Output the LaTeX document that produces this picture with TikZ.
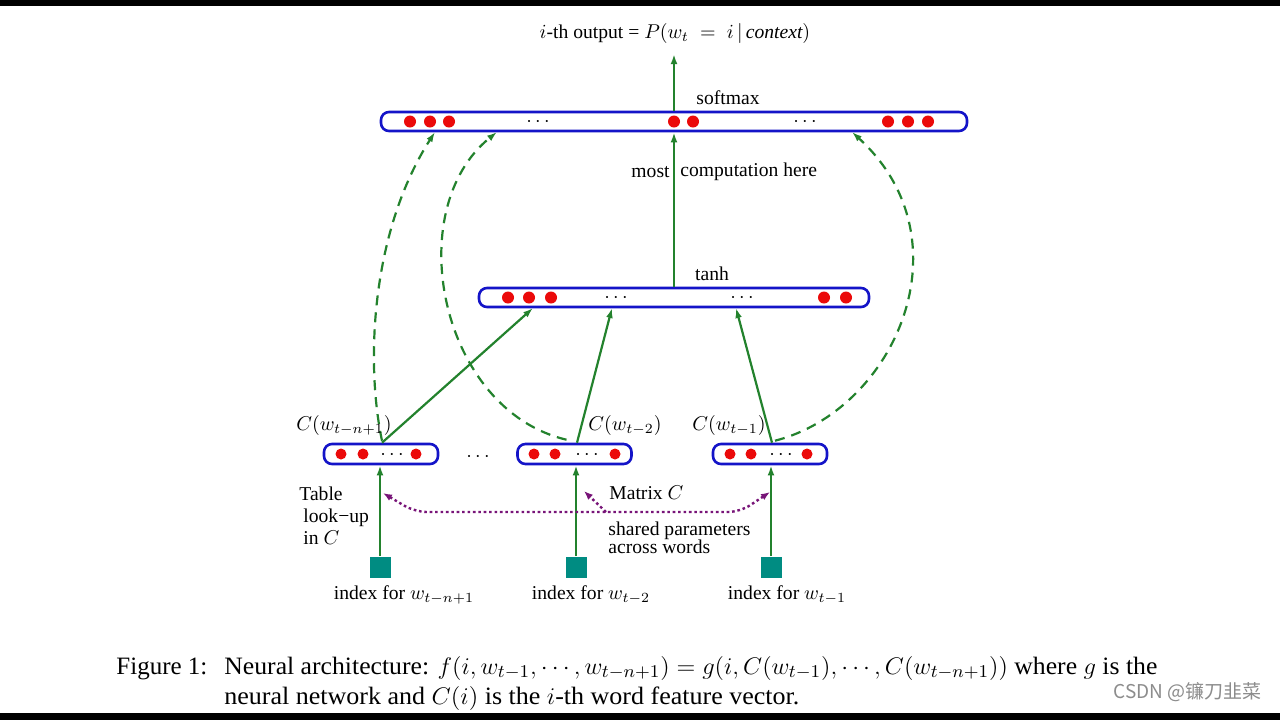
\documentclass[tikz,border=0pt]{standalone}
\usepackage{fontspec}
\setmainfont{Liberation Serif}
\newfontfamily\cjk{Noto Sans CJK SC}
\usetikzlibrary{arrows.meta,calc}
\definecolor{lgreen}{RGB}{35,130,45}
\definecolor{lblue}{RGB}{20,20,200}
\definecolor{lred}{RGB}{235,10,10}
\definecolor{lteal}{RGB}{0,140,130}
\definecolor{lpurple}{RGB}{120,20,120}
\tikzset{
  layer/.style={draw=lblue, line width=1.3pt, rounded corners=4pt, inner sep=0pt},
  bigdot/.style={circle, fill=lred, inner sep=0pt, minimum size=6pt},
  smalldot/.style={circle, fill=lred, inner sep=0pt, minimum size=5.5pt},
  sqbox/.style={fill=lteal, inner sep=0pt, minimum size=10.5pt},
  garrow/.style={draw=lgreen, line width=1.1pt, -{Latex[length=5pt,width=3.4pt]}},
  gdash/.style={garrow, dash pattern=on 5pt off 3.5pt},
  pline/.style={draw=lpurple, line width=1.2pt, dash pattern=on 1.3pt off 1.4pt, rounded corners=6pt},
  ptip/.style={-{Latex[length=4.5pt,width=3.5pt]}},
  txt/.style={inner sep=0pt, font=\fontsize{9.8}{11}\selectfont},
  ell/.style={inner sep=0pt, font=\fontsize{9.8}{11}\selectfont},
}
\begin{document}
\begin{tikzpicture}[x=0.5pt,y=-0.5pt]
\useasboundingbox (0,0) rectangle (1280,720);
\fill[white] (0,0) rectangle (1280,720);
\fill[black] (0,0) rectangle (1280,6);
\fill[black] (0,713) rectangle (1280,720);

% layers
\node[layer, minimum width=293pt, minimum height=9.5pt] (soft) at (674,121.5) {};
\node[layer, minimum width=195pt, minimum height=9.5pt] (tanh) at (674,297.5) {};
\node[layer, minimum width=57pt, minimum height=10pt] (e1) at (381,454) {};
\node[layer, minimum width=57pt, minimum height=10pt] (e2) at (574.5,454) {};
\node[layer, minimum width=57pt, minimum height=10pt] (e3) at (770,454) {};

% dots
\foreach \x [count=\i] in {410,430,449,674,693,888,908,928}
  \node[bigdot] (sd\i) at (\x,121.5) {};
\foreach \x [count=\i] in {508,529,551,824,846}
  \node[bigdot] (td\i) at (\x,297.5) {};
\foreach \x [count=\i] in {341,363,416}
  \node[smalldot] (ad\i) at (\x,454) {};
\foreach \x [count=\i] in {534,555,615}
  \node[smalldot] (bd\i) at (\x,454) {};
\foreach \x [count=\i] in {730,751,807}
  \node[smalldot] (cd\i) at (\x,454) {};
\node[ell] (se1) at (538,122) {$\cdots$};
\node[ell] (se2) at (805,122) {$\cdots$};
\node[ell] (te1) at (616,298) {$\cdots$};
\node[ell] (te2) at (742,298) {$\cdots$};
\node[ell] (ae) at (392,455) {$\cdots$};
\node[ell] (be) at (587,455) {$\cdots$};
\node[ell] (ce) at (781,455) {$\cdots$};
\node[ell] (mide) at (478,457) {$\cdots$};

% index squares
\node[sqbox] (q1) at (380,567) {};
\node[sqbox] (q2) at (576,567) {};
\node[sqbox] (q3) at (771,567) {};

% coordinates
\coordinate (out) at (674,54);
\coordinate (t1) at (533,308);
\coordinate (t2) at (612,308);
\coordinate (t3) at (736,308);
\coordinate (s1) at (435,132);
\coordinate (s2) at (497,132);
\coordinate (s3) at (852,132);
\coordinate (e1t) at ($(e1.north)+(1,0)$);
\coordinate (e2t) at ($(e2.north)+(2.5,0)$);
\coordinate (e3t) at ($(e3.north)+(2,0)$);
\coordinate (e1d) at ($(e1.north)+(1,-2)$);
\coordinate (e2d) at ($(e2.north)+(-8,-3)$);
\coordinate (e3d) at ($(e3.north)+(5,-2)$);

% solid arrows
\draw[garrow] (soft.north) -- (out);
\draw[garrow] (tanh.north) -- (soft.south);
\draw[garrow] (e1t) -- (t1);
\draw[garrow] (e2t) -- (t2);
\draw[garrow] (e3t) -- (t3);
\draw[garrow] (q1.north) -- (q1.north |- e1.south);
\draw[garrow] (q2.north) -- (q2.north |- e2.south);
\draw[garrow] (q3.north) -- (q3.north |- e3.south);

% dashed arcs
\draw[gdash] (e1d) .. controls (365,360) and (372,230) .. (s1);
\draw[gdash] (e2d) .. controls (440,410) and (400,210) .. (s2);
\draw[gdash] (e3d) .. controls (895,410) and (970,240) .. (s3);

% purple shared-parameter lines
\coordinate (pL) at (383,493);
\coordinate (pR) at (770,492);
\coordinate (pM) at (584,491);
\coordinate (pLb) at (415,512);
\coordinate (pRb) at (740,512);
\coordinate (pMb) at (606,512);
\draw[pline, {Latex[length=4.5pt,width=3.5pt]}-{Latex[length=4.5pt,width=3.5pt]}] (pL) -- (pLb) -- (pRb) -- (pR);
\draw[pline, ptip] (pMb) -- (pM);

% labels
\node[txt] (title) at (675,33) {$i$-th output = $P(w_t\;=\;i\,|\,\mathit{context})$};
\node[txt] (softl) at (728,98) {softmax};
\node[txt, anchor=east] (most) at (670,172) {most};
\node[txt, anchor=west] (comp) at (680,172) {computation here};
\node[txt] (tanhl) at (712,274) {tanh};
\node[txt] (c1l) at (344,425) {$C(w_{t-n+1})$};
\node[txt] (c2l) at (625,425) {$C(w_{t-2})$};
\node[txt] (c3l) at (729,425) {$C(w_{t-1})$};
\node[txt, anchor=north west, align=left, font=\fontsize{9.8}{11}\selectfont] (tbl) at (299,486) {Table\\ \hspace*{2pt}look−up\\ \hspace*{2pt}in $C$};
\node[txt, anchor=west] (mat) at (609,493) {Matrix $C$};
\node[txt, anchor=north west, align=left, font=\fontsize{9.8}{9.2}\selectfont] (shared) at (608,521) {shared parameters\\across words};
\node[txt] (i1) at (404,595) {index for $w_{t-n+1}$};
\node[txt] (i2) at (591,595) {index for $w_{t-2}$};
\node[txt] (i3) at (787,595) {index for $w_{t-1}$};

% caption
\node[anchor=base west, inner sep=0pt, font=\fontsize{12.5}{15}\selectfont] (fig) at (116,674) {Figure 1:};
\node[anchor=base west, inner sep=0pt, font=\fontsize{12.5}{15}\selectfont] (cap1) at (224,674)
  {\resizebox{466.5pt}{\height}{Neural architecture: $f(i,w_{t-1},\cdots,w_{t-n+1})=g(i,C(w_{t-1}),\cdots,C(w_{t-n+1}))$ where $g$ is the}};
\node[anchor=base west, inner sep=0pt, font=\fontsize{12.5}{15}\selectfont] (cap2) at (224,704)
  {\resizebox{287.5pt}{\height}{neural network and $C(i)$ is the $i$-th word feature vector.}};
\node[anchor=base east, inner sep=0pt, text=black!45, font=\cjk\fontsize{9.5}{11}\selectfont] (wm) at (1262,698) {CSDN @镰刀韭菜};
\end{tikzpicture}
\end{document}
